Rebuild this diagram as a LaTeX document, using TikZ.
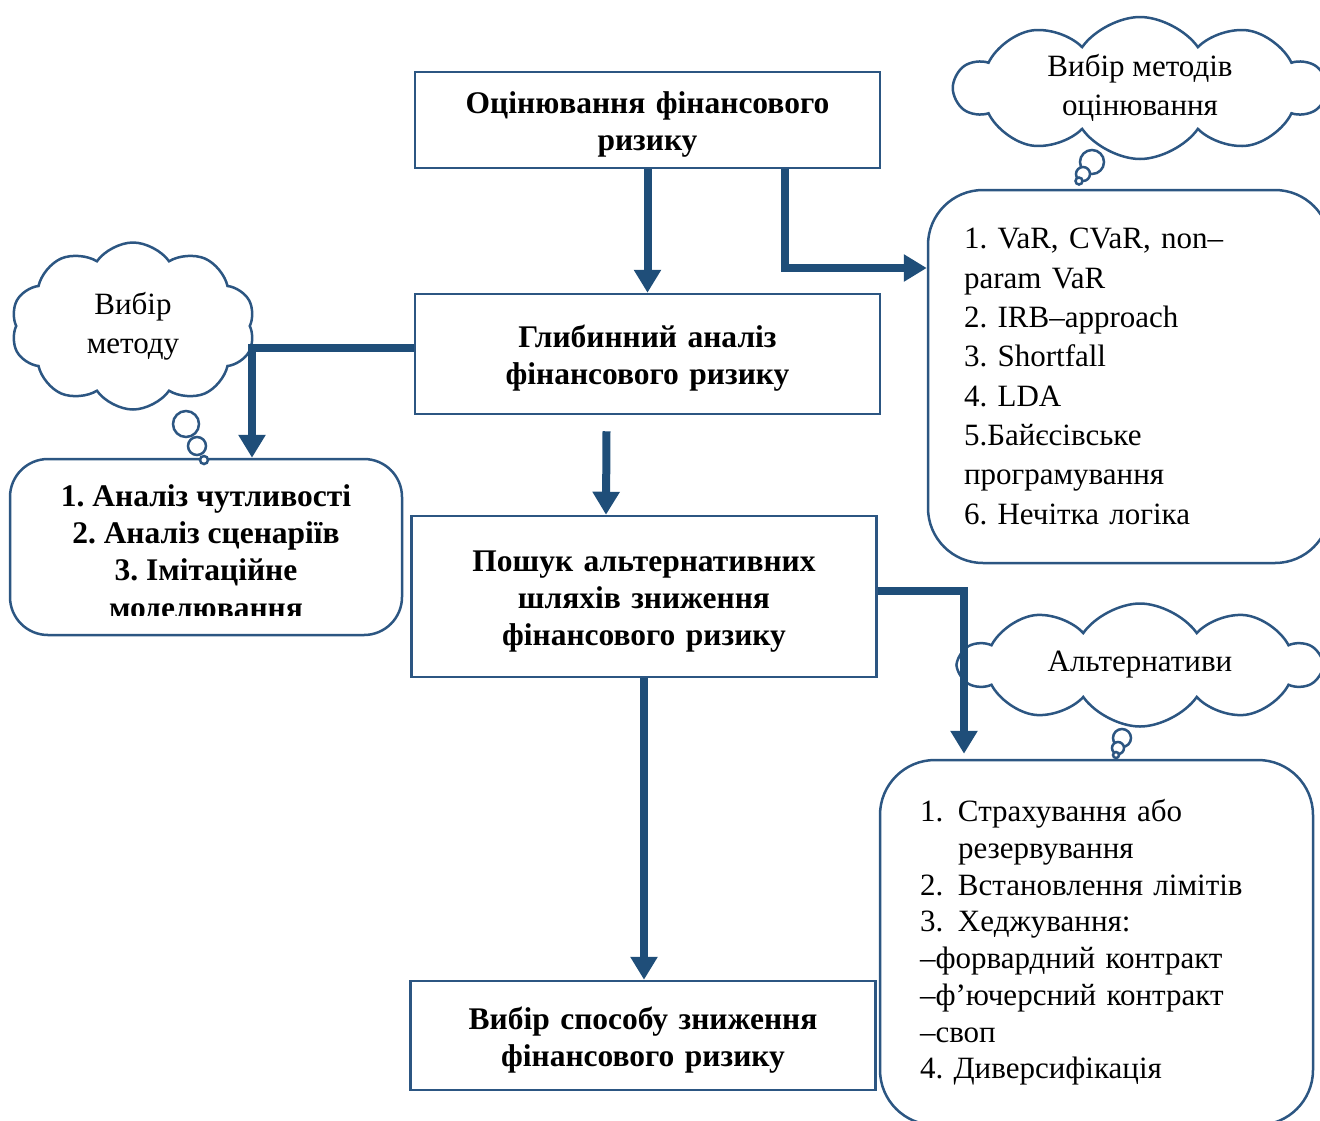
\documentclass[tikz,border=0pt]{standalone}
\usepackage{fontspec}
\setmainfont{Liberation Serif}
\usepackage{xcolor}
\definecolor{riskblue}{RGB}{31, 78, 121}
\definecolor{edgeblue}{RGB}{44, 86, 130}
\usetikzlibrary{positioning, shapes.symbols, arrows.meta, calc}
\newcommand{\numlab}[1]{\makebox[38pt][l]{#1}}
\frenchspacing

\begin{document}
\begin{tikzpicture}[x=1pt, y=-1pt,
        stage/.style={rectangle, draw=edgeblue, line width=2.5pt, fill=white, minimum width=465pt, inner sep=0pt, text width=450pt, text height=31pt, align=center, font=\fontsize{31.5}{37}\selectfont\bfseries},
        listbox/.style={rectangle, draw=edgeblue, line width=2.5pt, fill=white, rounded corners=55pt, inner sep=0pt, align=left},
        thought/.style={cloud, cloud puffs=10, cloud puff arc=110, cloud ignores aspect, draw=edgeblue, line width=2.5pt, fill=white, align=center, inner sep=0pt, font=\fontsize{31}{39}\selectfont},
        bubble/.style={draw=edgeblue, line width=2.5pt, fill=white},
        flow/.style={draw=riskblue, line width=8pt, -{Triangle[width=26pt, length=23pt]}}]
        \useasboundingbox (0,0) rectangle (1320,1120);

        % Основний ланцюжок
        \node [stage, minimum height=96pt] (assess) at (647.5,120) {Оцінювання фінансового\\ризику};
        \node [stage, minimum height=120pt, below=123.5pt of assess] (deep) {Глибинний аналіз\\фінансового ризику};
        \node [stage, minimum height=161pt, below=99.5pt of deep, xshift=-3.5pt] (search) {Пошук альтернативних\\шляхів зниження\\фінансового ризику};
        \node [stage, minimum height=109pt, below=301.5pt of search, xshift=-1pt] (choice) {Вибір способу зниження\\фінансового ризику};

        % Переліки методів
        \node [listbox, minimum width=402pt, minimum height=373pt, text width=330pt, font=\fontsize{31}{39.3}\selectfont] (methodlist) at (1129,376.5) {1. VaR, CVaR, non–\\param VaR\\2. IRB–approach\\3. Shortfall\\4. LDA\\5.Байєсівське\\програмування\\6. Нечітка логіка};
        \node [listbox, minimum width=433pt, minimum height=365pt, text width=353pt, font=\fontsize{31}{36.7}\selectfont] (altlist) at (1096.5,942.5) {\numlab{1.}Страхування або\\\hspace*{38pt}резервування\\\numlab{2.}Встановлення лімітів\\\numlab{3.}Хеджування:\\–форвардний контракт\\–ф’ючерсний контракт\\–своп\\4. Диверсифікація};
        \node [listbox, rounded corners=38pt, minimum width=392pt, minimum height=176pt] (sensibox) at (206,547) {};
        \begin{scope}
            \clip (sensibox.north west) rectangle ([yshift=21pt]sensibox.south east);
            \node [align=center, font=\fontsize{31.5}{37.3}\selectfont\bfseries] (sensitext) at ([yshift=-7pt]sensibox.center) {1. Аналіз чутливості\\2. Аналіз сценаріїв\\3. Імітаційне\\моделювання};
        \end{scope}

        % Хмаринки
        \node [thought, minimum width=370pt, minimum height=142pt] (methodcloud) at (1140,88) {Вибір методів\\оцінювання};
        \draw [bubble] (1092,162) circle (12pt);
        \draw [bubble] (1083,174) circle (7pt);
        \draw [bubble] (1079,181) circle (3.5pt);
        \node [thought, minimum width=244pt, minimum height=167pt] (pickcloud) at (133,326) {Вибір\\методу};
        \draw [bubble] (186,424) circle (13pt);
        \draw [bubble] (197,446) circle (9pt);
        \draw [bubble] (204,460) circle (4pt);
        \node [thought, minimum width=360pt, minimum height=123pt] (altcloud) at (1140,665) {Альтернативи};
        \draw [bubble] (1122,738) circle (9pt);
        \draw [bubble] (1118,748) circle (6pt);
        \draw [bubble] (1116,755) circle (3pt);

        % Зв'язки
        \path [flow] (assess) -- (deep);
        \path [flow] ([xshift=137.5pt]assess.south) |- ([yshift=108.5pt]methodlist.west);
        \path [flow] ([yshift=6pt]deep.west) -| ([xshift=46pt]sensibox.north);
        \path [flow] ([xshift=-41pt, yshift=-16pt]deep.south) -- ([xshift=-38pt]search.north);
        \path [flow, shorten >=5pt] ([yshift=6pt]search.east) -| ([xshift=-132.5pt]altlist.north);
        \path [flow] (search.south) -- (search.south |- choice.north);
\end{tikzpicture}
\end{document}
